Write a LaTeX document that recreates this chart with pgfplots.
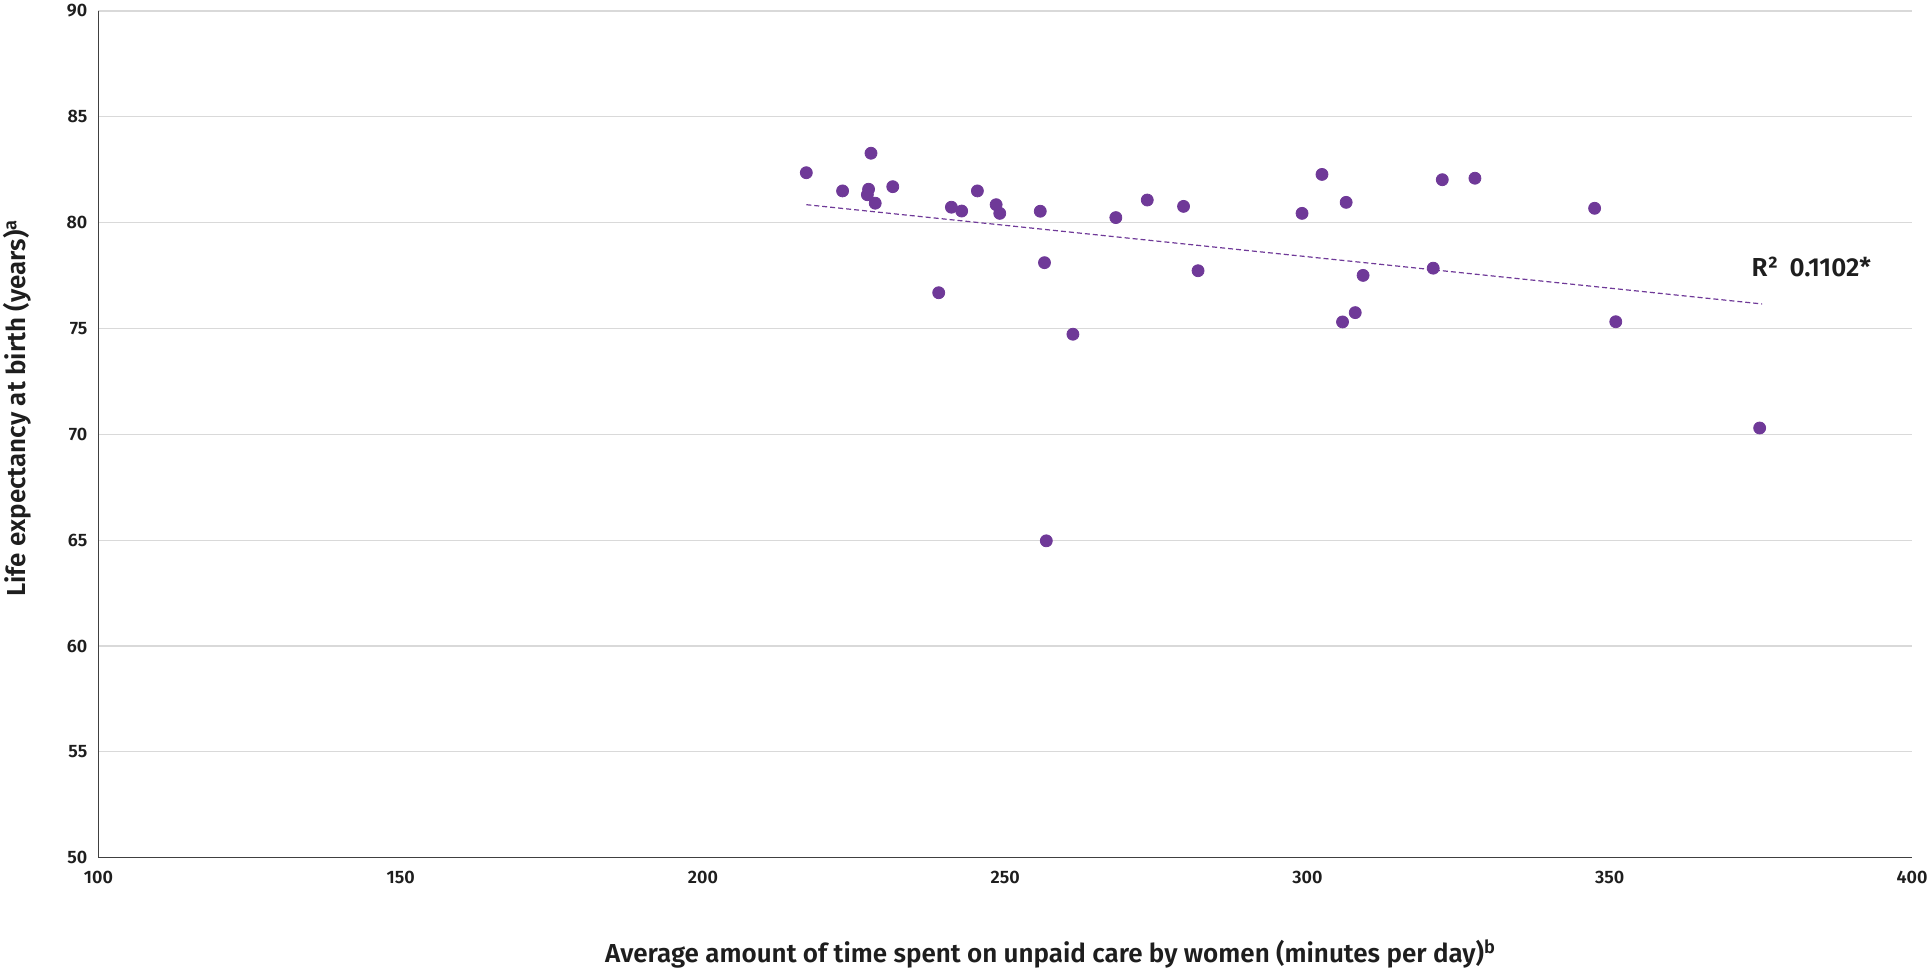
\documentclass[border=0pt]{standalone}
\usepackage{fontspec}
\setmainfont{Fira Sans}[BoldFont={Fira Sans SemiBold}]
\usepackage{pgfplots}
\pgfplotsset{compat=1.18}
\definecolor{pt}{RGB}{111,57,152}
\definecolor{gridc}{RGB}{217,217,217}
\definecolor{axc}{RGB}{64,64,64}
\definecolor{txt}{RGB}{30,30,30}
\begin{document}
\begin{tikzpicture}
\begin{axis}[
 scale only axis, width=906.8pt, height=423.35pt,
 xmin=100,xmax=400,ymin=50,ymax=90,
 xtick={100,150,...,400}, ytick={50,55,...,90},
 axis lines=left,
 axis line style={-, axc, line width=0.8pt},
 major tick length=0pt,
 ymajorgrids, grid style={gridc, line width=0.6pt},
 tick label style={font=\fontsize{9}{10}\selectfont\bfseries, text=txt},
 /pgf/number format/assume math mode=true,
 xticklabel style={yshift=-3pt},
 yticklabel style={xshift=-2pt},
 xlabel={Average amount of time spent on unpaid care by women (minutes per day)\textsuperscript{b}},
 ylabel={Life expectancy at birth (years)\textsuperscript{a}},
 label style={font=\fontsize{13}{15}\selectfont\bfseries, text=txt},
 xlabel style={at={(axis description cs:0.525,-0.1137)}, anchor=center},
 ylabel style={at={(axis description cs:-0.0449,0.531)}, anchor=center},
 clip=false,
]
\addplot[only marks, mark=*, mark size=3pt, color=pt] table {
x y
217.1 82.36
223.1 81.5
227.8 83.28
227.4 81.58
227.2 81.32
228.5 80.92
231.4 81.70
241.1 80.73
242.8 80.55
245.4 81.5
248.5 80.85
249.1 80.44
255.8 80.54
239.0 76.69
256.5 78.11
261.2 74.73
268.3 80.24
273.5 81.07
279.5 80.77
281.9 77.73
299.1 80.44
302.4 82.28
306.4 80.96
309.2 77.51
305.8 75.31
307.9 75.75
322.3 82.03
327.7 82.10
347.5 80.68
320.8 77.85
351.0 75.32
374.8 70.3
256.8 64.97
};
\addplot[pt, line width=0.6pt, dash pattern=on 2.5pt off 1.5pt, no marks] coordinates {(217.1,80.85) (375.2,76.16)};
\node[anchor=base west, inner sep=0pt, font=\fontsize{13}{15}\selectfont\bfseries, text=txt] at (axis cs:373.4,77.45) {R²\hspace{0.45em}0.1102*};
\end{axis}
\pgfresetboundingbox
\path (-49.2pt,-55.65pt) rectangle (914.8pt,428.85pt);
\end{tikzpicture}
\end{document}
